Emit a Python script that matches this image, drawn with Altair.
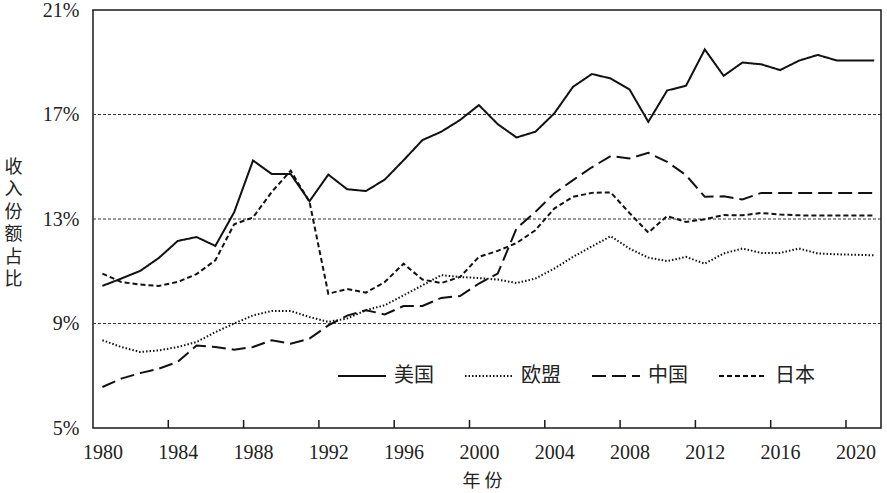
import altair as alt
import pandas as pd

years = list(range(1980, 2022))

us = [10.44, 10.72, 11.01, 11.51, 12.16, 12.31, 11.97, 13.26, 15.24, 14.72,
      14.72, 13.68, 14.70, 14.14, 14.07, 14.51, 15.25, 16.02, 16.34, 16.79,
      17.36, 16.63, 16.12, 16.34, 17.04, 18.06, 18.55, 18.38, 17.96, 16.72,
      17.92, 18.10, 19.49, 18.48, 18.99, 18.92, 18.70, 19.06, 19.28, 19.07,
      19.07, 19.07]

eu = [8.36, 8.10, 7.91, 7.97, 8.10, 8.29, 8.67, 9.00, 9.31, 9.48,
      9.48, 9.25, 9.06, 9.19, 9.51, 9.70, 10.08, 10.46, 10.85, 10.78,
      10.74, 10.68, 10.55, 10.72, 11.10, 11.55, 11.95, 12.34, 11.87, 11.52,
      11.39, 11.55, 11.29, 11.68, 11.87, 11.70, 11.70, 11.87, 11.68, 11.65,
      11.63, 11.61]

china = [6.57, 6.89, 7.10, 7.27, 7.53, 8.16, 8.10, 8.00, 8.10, 8.36,
         8.23, 8.42, 8.93, 9.30, 9.51, 9.35, 9.67, 9.67, 9.98, 10.05,
         10.53, 10.91, 12.64, 13.27, 13.98, 14.49, 14.98, 15.41, 15.32, 15.53,
         15.19, 14.68, 13.85, 13.87, 13.75, 14.00, 14.00, 14.00, 14.00, 14.00,
         14.00, 14.00]

japan = [10.91, 10.59, 10.49, 10.44, 10.59, 10.89, 11.42, 12.80, 13.06, 14.04,
         14.85, 13.66, 10.14, 10.32, 10.18, 10.59, 11.29, 10.68, 10.55, 10.78,
         11.55, 11.78, 12.08, 12.57, 13.40, 13.85, 14.00, 14.02, 13.23, 12.48,
         13.11, 12.89, 12.99, 13.15, 13.14, 13.23, 13.17, 13.14, 13.13, 13.13,
         13.13, 13.13]

series_names = ["美国", "欧盟", "中国", "日本"]
series_values = [us, eu, china, japan]
dash_styles = [[1, 0], [1.5, 2], [14, 6], [5, 3]]

label_years = list(range(1980, 2021, 4))
tick_positions = [y - 0.5 for y in range(1984, 2021, 4)]
y_ticks = [5, 9, 13, 17, 21]
grid_values = [9, 13, 17]

W, H = 788, 418
SERIF = "Liberation Serif"
CJK = "Noto Sans CJK SC"

rows = []
for name, vals in zip(series_names, series_values):
    for yr, v in zip(years, vals):
        rows.append({"year": yr, "share": v, "series": name})
df = pd.DataFrame(rows)

xscale = alt.Scale(domain=[1979.5, 2021.36], nice=False, zero=False)
yscale = alt.Scale(domain=[5, 21], nice=False, zero=False)

x_axis = alt.Axis(
    values=label_years,
    format="d",
    ticks=False,
    domain=False,
    grid=False,
    labelFont=SERIF,
    labelFontSize=20,
    labelColor="#222",
    labelPadding=24,
    labelBaseline="middle",
    labelFlush=False,
    labelOverlap=False,
    title="年 份",
    titleFont=CJK,
    titleFontSize=18,
    titleFontWeight="normal",
    titleColor="#222",
    titleX=389,
    titleY=53,
    titleAnchor="middle",
    titleAlign="center",
    titleBaseline="middle",
)

y_axis = alt.Axis(
    values=y_ticks,
    labelExpr="datum.value + '%'",
    ticks=False,
    domain=False,
    grid=False,
    labelFont=SERIF,
    labelFontSize=20,
    labelColor="#222",
    labelPadding=14,
    labelFlush=False,
    labelOverlap=False,
    title=["收", "入", "份", "额", "占", "比"],
    titleFont=CJK,
    titleFontSize=18,
    titleFontWeight="normal",
    titleColor="#222",
    titleAngle=0,
    titleX=-80,
    titleY=157,
    titleAlign="center",
    titleBaseline="middle",
    titleLineHeight=22.5,
)

lines = alt.Chart(df).mark_line(color="#111", strokeWidth=2).encode(
    x=alt.X("year:Q", scale=xscale, axis=x_axis),
    y=alt.Y("share:Q", scale=yscale, axis=y_axis),
    strokeDash=alt.StrokeDash(
        "series:N",
        scale=alt.Scale(domain=series_names, range=dash_styles),
        sort=series_names,
        legend=alt.Legend(
            title=None,
            orient="none",
            legendX=244,
            legendY=341,
            direction="horizontal",
            symbolType="stroke",
            symbolSize=2304,
            symbolStrokeWidth=2,
            symbolStrokeColor="#111",
            labelFont=CJK,
            labelFontSize=20,
            labelColor="#222",
            labelOffset=7,
            columnPadding=27,
        ),
    ),
    detail="series:N",
)

grid = alt.Chart(pd.DataFrame({"share": grid_values})).mark_rule(
    color="#333", strokeWidth=1, strokeDash=[3, 2]
).encode(y=alt.Y("share:Q", scale=yscale, axis=y_axis))

ticks = alt.Chart(pd.DataFrame({"year": tick_positions})).mark_rule(
    color="#1a1a1a", strokeWidth=1.5
).encode(
    x=alt.X("year:Q", scale=xscale, axis=x_axis),
    y=alt.value(H - 8),
    y2=alt.value(H),
)

chart = alt.layer(grid, ticks, lines).properties(
    width=W,
    height=H,
    padding={"left": 93, "top": 10, "right": 6, "bottom": 65},
    autosize=alt.AutoSizeParams(type="none"),
    background="white",
).configure_view(
    stroke="#1a1a1a", strokeWidth=1.5
)

chart.save("out.html", embed_options={"renderer": "svg", "actions": False})
